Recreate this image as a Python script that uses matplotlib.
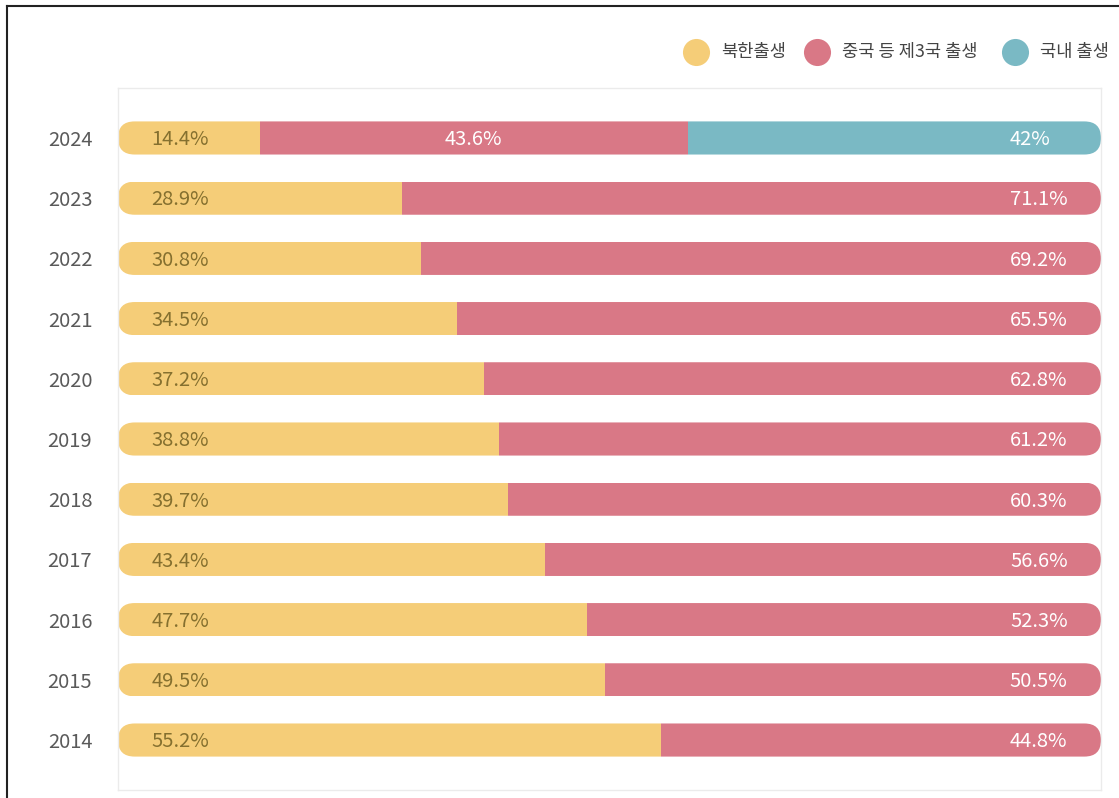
import matplotlib
matplotlib.use("Agg")
import matplotlib.pyplot as plt
from matplotlib.patches import FancyBboxPatch
from matplotlib.lines import Line2D

plt.rcParams['font.family'] = ['Noto Sans CJK KR', 'DejaVu Sans']

years = ['2014', '2015', '2016', '2017', '2018', '2019', '2020', '2021', '2022', '2023', '2024']
north = [55.2, 49.5, 47.7, 43.4, 39.7, 38.8, 37.2, 34.5, 30.8, 28.9, 14.4]
third = [44.8, 50.5, 52.3, 56.6, 60.3, 61.2, 62.8, 65.5, 69.2, 71.1, 43.6]
domestic = [0, 0, 0, 0, 0, 0, 0, 0, 0, 0, 42.0]
series_names = ['북한출생', '중국 등 제3국 출생', '국내 출생']
colors = ['#F5CD78', '#D97886', '#7AB9C4']

W, H = 1119, 798
fig = plt.figure(figsize=(W / 100, H / 100), dpi=100)
ax_l, ax_r, ax_t, ax_b = 118, 1101, 88, 790
ax = fig.add_axes([ax_l / W, (H - ax_b) / H, (ax_r - ax_l) / W, (ax_b - ax_t) / H])

bar_h = 0.55
ax.set_xlim(0, 100)
ax.set_ylim(-0.83, len(years) - 1 + 0.83)

px_per_x = (ax_r - ax_l) / 100.0
px_per_y = (ax_b - ax_t) / (len(years) - 1 + 1.66)
r_px = bar_h * px_per_y / 2
r_x = r_px / px_per_x
aspect = (bar_h / 2) / r_x

for i, y in enumerate(years):
    total = north[i] + third[i] + domestic[i]
    clip = FancyBboxPatch((0, i - bar_h / 2), total, bar_h,
                          boxstyle=f"round,pad=0,rounding_size={r_x}",
                          mutation_aspect=aspect, transform=ax.transData,
                          facecolor='none', edgecolor='none')
    ax.add_patch(clip)
    left = 0
    for vals, c in zip([north, third, domestic], colors):
        v = vals[i]
        if v > 0:
            b = ax.barh(i, v, left=left, height=bar_h, color=c, edgecolor='none')
            for p in b:
                p.set_clip_path(clip)
        left += v

fs = 14.5
fw = 'medium'
dy = -0.03
for i, y in enumerate(years):
    ax.text(3.4, i + dy, f"{north[i]:g}%", ha='left', va='center', fontsize=fs, color='#85702F',
            fontweight=fw)
    if domestic[i] > 0:
        ax.text(north[i] + third[i] / 2, i + dy, f"{third[i]:g}%", ha='center', va='center',
                fontsize=fs, color='white', fontweight=fw)
        ax.text(94.8, i + dy, f"{domestic[i]:g}%", ha='right', va='center', fontsize=fs,
                color='white', fontweight=fw)
    else:
        ax.text(96.6, i + dy, f"{third[i]:g}%", ha='right', va='center', fontsize=fs,
                color='white', fontweight=fw)

ax.set_yticks(range(len(years)))
ax.set_yticklabels(years, fontsize=fs, color='#5A5A5A', fontweight=fw)
ax.tick_params(axis='y', length=0, pad=18.5)
ax.set_xticks([])
for s in ax.spines.values():
    s.set_color('#EBEBEB')
    s.set_linewidth(1)

# legend (manual placement in pixel positions)
leg_y = 1 - 52 / H
circle_x = [696, 817, 1015]
text_x = [721, 842, 1040]
for cx, tx, c, name in zip(circle_x, text_x, colors, series_names):
    fig.add_artist(Line2D([cx / W], [leg_y], marker='o', linestyle='none', markersize=19.5,
                          markerfacecolor=c, markeredgecolor='none', transform=fig.transFigure))
    fig.text(tx / W, leg_y, name, ha='left', va='center', fontsize=12.7, color='#444444',
             fontweight=fw)

fig.add_artist(Line2D([7 / W, 7 / W], [0, 1 - 6 / H], color='#222222', lw=1.5, transform=fig.transFigure))
fig.add_artist(Line2D([7 / W, 1], [1 - 6 / H, 1 - 6 / H], color='#222222', lw=1.5, transform=fig.transFigure))

fig.savefig('out.png', dpi=100, facecolor='white')
